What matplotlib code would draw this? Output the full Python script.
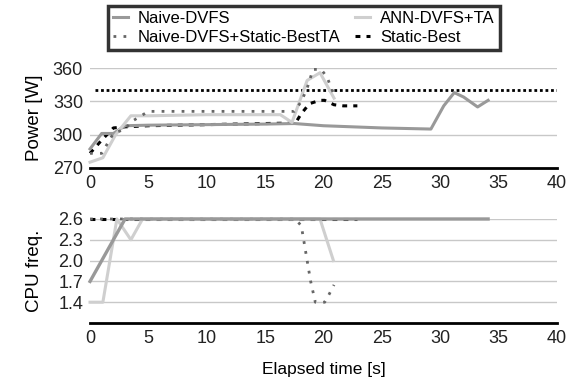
import numpy as np
import matplotlib
matplotlib.use("Agg")
import matplotlib.pyplot as plt

plt.rcParams['font.family'] = ['Liberation Sans', 'DejaVu Sans']

# power panel
naive_t = [0, 1, 2, 3, 5, 10, 15, 17.5, 20, 25, 29.2, 30.3, 31.2, 32, 33.2, 34.1]
naive_p = [287, 301, 301, 308, 308.5, 309, 309.5, 310, 308, 306, 305, 326, 338, 334, 325, 331]

ann_t = [0, 1.1, 2.2, 3.5, 5, 10, 16.3, 17.3, 18.6, 19.7, 20.9]
ann_p = [275, 279, 300, 317, 317, 318, 318, 311, 349, 356, 333]

sbta_t = [0, 1, 2, 3, 3.6, 5, 17.5, 18.1, 18.6, 19.1, 19.8, 20.3, 20.9]
sbta_p = [283, 283, 301, 305, 312, 321, 321, 330, 342, 359, 359, 352, 336]

sb_t = [0, 1, 2, 3, 5, 10, 17.6, 18.1, 18.8, 19.7, 20.1, 20.9, 21.7, 22.9]
sb_p = [283, 295, 306, 307, 308, 309, 310.5, 319, 328, 331, 331, 327, 326, 326]

power_limit = 340

# cpu freq panel
naive_ft = [0, 3, 34.1]
naive_f = [1.7, 2.6, 2.6]

ann_ft = [0, 1.1, 2.3, 3.5, 4.5, 19.7, 20.85]
ann_f = [1.4, 1.4, 2.6, 2.3, 2.6, 2.6, 2.0]

sbta_ft = [0, 17.6, 18.1, 18.9, 19.3, 20.1, 20.5, 20.9]
sbta_f = [2.6, 2.6, 2.5, 1.7, 1.4, 1.4, 1.52, 1.65]

sb_ft = [0, 22.9]
sb_f = [2.6, 2.6]

c_naive = '#999999'
c_ann = '#cfcfcf'
c_sbta = '#666666'
c_sb = '#000000'

fig = plt.figure(figsize=(5.68, 3.85), dpi=100)
ax1 = fig.add_axes([0.1585, 0.5644, 0.8221, 0.2582])
ax2 = fig.add_axes([0.1585, 0.161, 0.8221, 0.2702])

def style(ax, yt, ylim):
    ax.set_xlim(0, 40)
    ax.set_ylim(*ylim)
    ax.set_xticks(range(0, 41, 5))
    ax.set_yticks(yt)
    for s in ['top', 'right', 'left']:
        ax.spines[s].set_visible(False)
    ax.spines['bottom'].set_linewidth(2)
    ax.spines['bottom'].set_color('black')
    ax.tick_params(length=0, labelsize=13, colors='#222222', pad=5)
    ax.grid(axis='y', color='#c8c8c8', linewidth=1)
    ax.set_axisbelow(True)

style(ax1, [270, 300, 330, 360], (270, 360))
style(ax2, [1.4, 1.7, 2.0, 2.3, 2.6], (1.1, 2.6))
ax2.set_yticklabels(['1.4', '1.7', '2.0', '2.3', '2.6'])

ax1.axhline(power_limit, color='black', lw=2, ls=(0, (1, 1)), xmin=0.01)

ax1.plot(sb_t, sb_p, color=c_sb, lw=2.2, dashes=(1.6, 2), clip_on=False, zorder=3)
ax1.plot(naive_t, naive_p, color=c_naive, lw=2.2, clip_on=False, zorder=4)
ax1.plot(ann_t, ann_p, color=c_ann, lw=2.2, clip_on=False, zorder=4)
ax1.plot(sbta_t, sbta_p, color=c_sbta, lw=2, dashes=(1, 2.6), clip_on=False, zorder=5)

ax2.plot(sb_ft, sb_f, color=c_sb, lw=2.2, dashes=(1.6, 2), clip_on=False, zorder=3)
ax2.plot(sbta_ft, sbta_f, color=c_sbta, lw=2, dashes=(1, 2.6), clip_on=False, zorder=3)
ax2.plot(ann_ft, ann_f, color=c_ann, lw=2.2, clip_on=False, zorder=4)
ax2.plot(naive_ft, naive_f, color=c_naive, lw=2.4, clip_on=False, zorder=5)

ax1.set_ylabel('Power [W]', fontsize=13.5)
ax2.set_ylabel('CPU freq.', fontsize=13.5)
ax1.yaxis.set_label_coords(-0.1, 0.5)
ax2.yaxis.set_label_coords(-0.1, 0.5)
ax2.set_xlabel('Elapsed time [s]', fontsize=12.5, labelpad=11)

handles = [
    plt.Line2D([], [], color=c_naive, lw=2.2),
    plt.Line2D([], [], color=c_sbta, lw=2, dashes=(1, 2.6)),
    plt.Line2D([], [], color=c_ann, lw=2.2),
    plt.Line2D([], [], color=c_sb, lw=2.2, dashes=(1.6, 2)),
]
labels = ['Naive-DVFS', 'Naive-DVFS+Static-BestTA', 'ANN-DVFS+TA', 'Static-Best']
leg = fig.legend(handles, labels, loc='upper center', bbox_to_anchor=(0.535, 0.985),
                 ncol=2, fontsize=12, frameon=True, fancybox=False, handlelength=0.9,
                 handletextpad=0.6, columnspacing=0.9, labelspacing=0.25,
                 borderpad=0.3, borderaxespad=0)
leg.get_frame().set_edgecolor('black')
leg.get_frame().set_linewidth(2.5)

fig.savefig('out.png', dpi=100)
